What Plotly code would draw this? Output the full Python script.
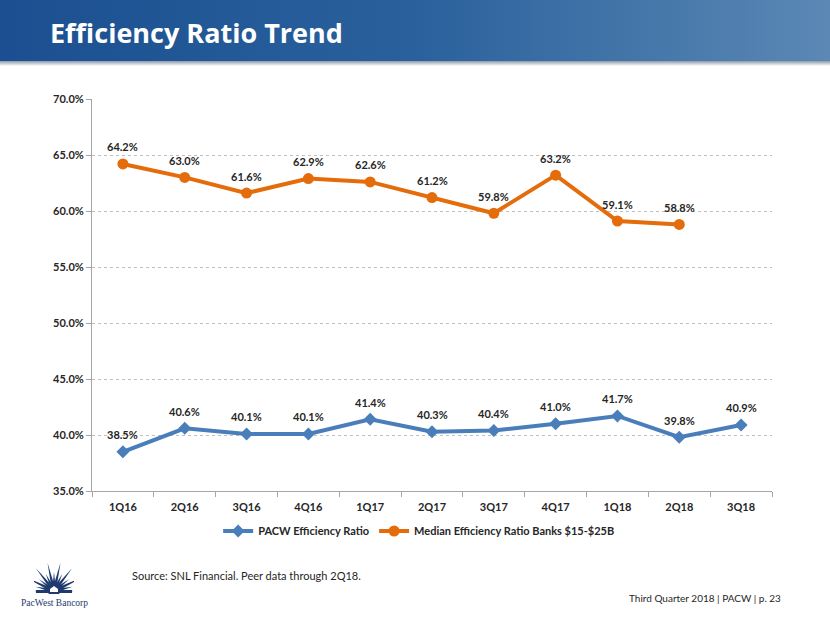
import plotly.graph_objects as go
import base64
import math

quarters = ["1Q16", "2Q16", "3Q16", "4Q16", "1Q17", "2Q17", "3Q17", "4Q17", "1Q18", "2Q18", "3Q18"]
pacw = [38.5, 40.6, 40.1, 40.1, 41.4, 40.3, 40.4, 41.0, 41.7, 39.8, 40.9]
median_quarters = ["1Q16", "2Q16", "3Q16", "4Q16", "1Q17", "2Q17", "3Q17", "4Q17", "1Q18", "2Q18"]
median = [64.2, 63.0, 61.6, 62.9, 62.6, 61.2, 59.8, 63.2, 59.1, 58.8]
y_ticks = [35, 40, 45, 50, 55, 60, 65, 70]

BLUE = "#4A7EBB"
ORANGE = "#E46C0A"
FONT = "Lato"

fig = go.Figure()
fig.add_trace(go.Scatter(
    x=quarters, y=pacw, mode="lines+markers", name="PACW Efficiency Ratio",
    line=dict(color=BLUE, width=4), marker=dict(symbol="diamond", size=10, color=BLUE),
    cliponaxis=False,
))
fig.add_trace(go.Scatter(
    x=median_quarters, y=median, mode="lines+markers", name="Median Efficiency Ratio Banks $15-$25B",
    line=dict(color=ORANGE, width=4), marker=dict(symbol="circle", size=11, color=ORANGE),
    cliponaxis=False,
))

label_annotations = []
for xs, ys in ((quarters, pacw), (median_quarters, median)):
    for q, v in zip(xs, ys):
        label_annotations.append(dict(
            x=q, y=v, xref="x", yref="y", text=f"{v:.1f}%", showarrow=False,
            yshift=17, font=dict(family=FONT, size=11, color="#262626", weight="bold")))

bar_svg = """<svg xmlns='http://www.w3.org/2000/svg' width='830' height='66'>
<defs><linearGradient id='g' x1='0' y1='0' x2='1' y2='0'>
<stop offset='0' stop-color='#1B4F91'/><stop offset='0.5' stop-color='#2A619C'/><stop offset='1' stop-color='#5B88B5'/></linearGradient>
<linearGradient id='s' x1='0' y1='0' x2='0' y2='1'><stop offset='0' stop-color='#8c99a8'/><stop offset='1' stop-color='#ffffff'/></linearGradient></defs>
<rect x='0' y='0' width='830' height='61' fill='url(#g)'/>
<rect x='0' y='61' width='830' height='5' fill='url(#s)'/></svg>"""

rays = []
cx, cy = 20, 31
for i in range(15):
    ang = math.radians(180 - i * (180 / 14))
    L = 29 if i % 2 == 0 else 19
    L = min(L, 20) if i in (0, 14) else L
    tx, ty = cx + L * math.cos(ang), cy - L * math.sin(ang)
    px, py = math.sin(ang) * 2.0, math.cos(ang) * 2.0
    rays.append(f"<polygon points='{cx-px:.1f},{cy-py:.1f} {tx:.1f},{ty:.1f} {cx+px:.1f},{cy+py:.1f}' fill='#1F3A6E'/>")
logo_svg = f"""<svg xmlns='http://www.w3.org/2000/svg' width='40' height='34'>
{''.join(rays)}
<circle cx='20' cy='31' r='6' fill='#1F3A6E'/>
<rect x='2' y='30' width='36' height='3' fill='#1F3A6E'/>
<path d='M16,32 L16,29 L20,26 L24,29 L24,32 Z' fill='white'/></svg>"""

def uri(svg):
    return "data:image/svg+xml;base64," + base64.b64encode(svg.encode()).decode()

def px_x(x):
    return (x - 92) / 680

def px_y(y):
    return 1 - (y - 99) / 392

fig.update_layout(
    width=830, height=623,
    margin=dict(l=92, r=58, t=99, b=132),
    paper_bgcolor="white", plot_bgcolor="white",
    font=dict(family=FONT, color="#262626"),
    showlegend=True,
    legend=dict(orientation="h", xref="container", x=0.505, xanchor="center",
                yref="container", y=1 - 531 / 623, yanchor="middle",
                font=dict(family=FONT, size=11, color="#262626", weight="bold"),
                tracegroupgap=0),
    xaxis=dict(type="category", categoryorder="array", categoryarray=quarters,
               showgrid=False, showline=True, linecolor="#A6A6A6", linewidth=1,
               ticks="outside", tickson="boundaries", ticklen=5, tickcolor="#A6A6A6",
               ticklabelstandoff=6,
               tickfont=dict(family=FONT, size=11, color="#262626", weight="bold"),
               range=[-0.5, 10.5], fixedrange=True, automargin=False),
    yaxis=dict(range=[35, 70], tickvals=y_ticks, ticktext=[f"{v:.1f}%" for v in y_ticks],
               showgrid=True, gridcolor="#BFBFBF", griddash="dot", gridwidth=1,
               showline=True, linecolor="#A6A6A6", linewidth=1,
               ticks="outside", ticklen=5, tickcolor="#A6A6A6",
               tickfont=dict(family=FONT, size=11, color="#262626", weight="bold"),
               zeroline=False, fixedrange=True, automargin=False),
    images=[
        dict(source=uri(bar_svg), xref="paper", yref="paper", x=px_x(0), y=px_y(0),
             sizex=830 / 680, sizey=66 / 392, xanchor="left", yanchor="top", sizing="stretch", layer="below"),
        dict(source=uri(logo_svg), xref="paper", yref="paper", x=px_x(34), y=px_y(560),
             sizex=40 / 680, sizey=34 / 392, xanchor="left", yanchor="top", sizing="stretch", layer="above"),
    ],
    annotations=label_annotations + [
        dict(text="<b>Efficiency Ratio Trend</b>", xref="paper", yref="paper",
             x=px_x(48), y=px_y(32), xanchor="left", yanchor="middle", showarrow=False,
             font=dict(family="Open Sans", size=27, color="white")),
        dict(text="Source: SNL Financial. Peer data through 2Q18.", xref="paper", yref="paper",
             x=px_x(130), y=px_y(575), xanchor="left", yanchor="middle", showarrow=False,
             font=dict(family=FONT, size=11, color="#262626")),
        dict(text="Third Quarter 2018 | PACW | p. 23", xref="paper", yref="paper",
             x=px_x(783), y=px_y(598), xanchor="right", yanchor="middle", showarrow=False,
             font=dict(family=FONT, size=10, color="#262626")),
        dict(text="PacWest Bancorp", xref="paper", yref="paper",
             x=px_x(54), y=px_y(603), xanchor="center", yanchor="middle", showarrow=False,
             font=dict(family="Liberation Serif", size=9.5, color="#1F3A6E")),
    ],
)

fig.write_html("out.html", config={"displayModeBar": False},
               post_script="document.body.style.margin='0';document.body.style.overflow='hidden';")
